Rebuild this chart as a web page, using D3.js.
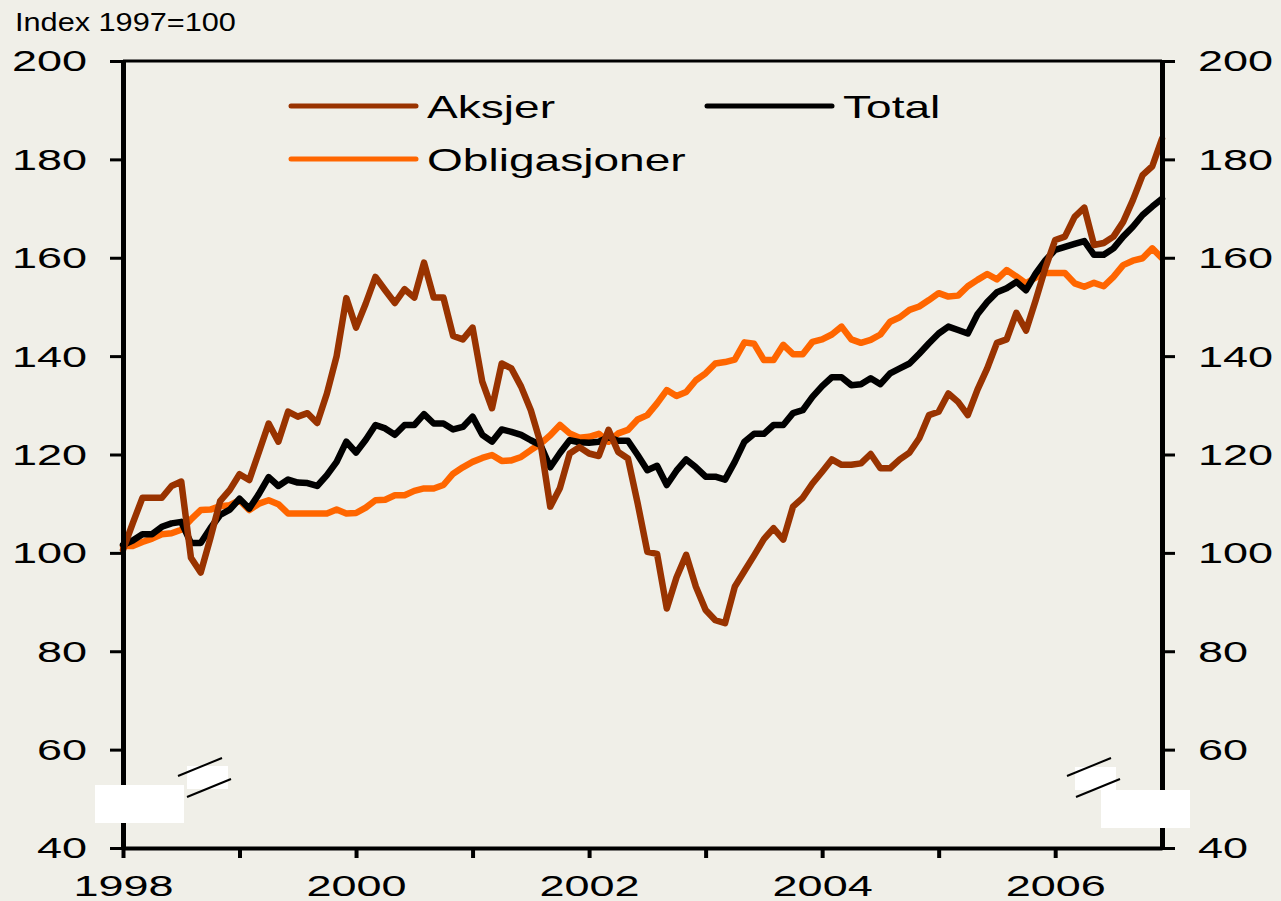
<!DOCTYPE html>
<html lang="no">
<head>
<meta charset="utf-8">
<title>Index 1997=100</title>
<script src="https://cdn.jsdelivr.net/npm/d3@7"></script>
<style>
  body { margin: 0; background: #f0efe8; }
  svg { display: block; }
  text { font-family: "Liberation Sans", Arial, sans-serif; fill: #000; }
  .line { fill: none; stroke-width: 6.5; stroke-linejoin: round; stroke-linecap: round; }
</style>
</head>
<body>
<script>
// monthly observations, Jan 1998 - Dec 2006
var startYear = 1998;
var yearLabels = ["1998", "2000", "2002", "2004", "2006"];
var yTicks = [40, 60, 80, 100, 120, 140, 160, 180, 200];

var aksjer = [
  100.6, 106, 111.2, 111.2, 111.2, 113.6, 114.5, 99, 96, 103, 110.5, 112.8,
  116, 114.8, 120.5, 126.3, 122.6, 128.7, 127.7, 128.4, 126.4, 132.4, 140, 151.8,
  145.8, 150.7, 156.1, 153.4, 150.8, 153.6, 151.9, 159, 151.9, 151.9, 144.1, 143.4,
  145.8, 134.8, 129.4, 138.5, 137.5, 133.8, 129, 122.3, 109.4, 113.2, 120.2, 121.5,
  120.2, 119.7, 125, 120.5, 119.2, 110.1, 100.2, 99.8, 88.7, 95, 99.6, 93.1,
  88.4, 86.3, 85.7, 93.1, 96.3, 99.5, 102.8, 105, 102.7, 109.4, 111.2, 114.1,
  116.5, 119, 117.9, 117.9, 118.2, 120.1, 117.2, 117.2, 119, 120.4, 123.3, 128,
  128.7, 132.4, 130.7, 128, 133.2, 137.5, 142.7, 143.4, 148.8, 145.2, 151.4, 158,
  163.6, 164.3, 168.3, 170.2, 162.6, 163, 164.3, 167.3, 171.7, 176.8, 178.6, 184.2
];

var total = [
  101.6, 102.5, 103.8, 103.8, 105.3, 106, 106.3, 102, 102, 105, 107.7, 108.8,
  111, 109, 112, 115.4, 113.6, 114.9, 114.3, 114.2, 113.6, 115.8, 118.5, 122.6,
  120.4, 123, 126, 125.3, 124, 126, 126, 128.2, 126.3, 126.3, 125.1, 125.6,
  127.7, 124, 122.6, 125.1, 124.6, 124, 122.9, 121.9, 117.4, 120.3, 122.9, 122.5,
  122.4, 122.6, 123.5, 122.8, 122.8, 119.9, 116.8, 117.7, 113.8, 116.7, 119, 117.4,
  115.5, 115.5, 114.9, 118.5, 122.6, 124.2, 124.2, 126, 126, 128.4, 129, 131.7,
  133.9, 135.7, 135.7, 134.1, 134.3, 135.5, 134.3, 136.5, 137.5, 138.5, 140.5, 142.6,
  144.6, 146, 145.3, 144.6, 148.5, 151, 153, 153.8, 155.1, 153.4, 156.8, 159.5,
  161.6, 162.2, 162.8, 163.4, 160.6, 160.6, 161.9, 164.3, 166.3, 168.7, 170.4, 172
];

var obligasjoner = [
  101.4, 101.4, 102.2, 102.9, 103.8, 104, 104.7, 106.8, 108.7, 108.8, 109.5, 109.7,
  110.7, 108.7, 110, 110.7, 109.9, 108, 108, 108, 108, 108, 108.8, 108,
  108.1, 109.2, 110.7, 110.8, 111.7, 111.7, 112.6, 113.1, 113.1, 113.8, 116.1, 117.4,
  118.5, 119.3, 119.9, 118.7, 118.8, 119.5, 120.9, 122.2, 123.9, 126, 124.3, 123.4,
  123.6, 124.2, 122.6, 124.3, 125, 127.1, 128, 130.4, 133.1, 131.9, 132.7, 135.1,
  136.5, 138.5, 138.8, 139.3, 142.8, 142.5, 139.2, 139.2, 142.3, 140.4, 140.4, 142.9,
  143.4, 144.4, 146, 143.4, 142.7, 143.3, 144.4, 147, 147.9, 149.4, 150.1, 151.4,
  152.8, 152.1, 152.3, 154.2, 155.5, 156.7, 155.6, 157.5, 156.2, 154.8, 156, 156.9,
  156.9, 156.9, 154.8, 154.1, 154.9, 154.2, 156.1, 158.5, 159.4, 159.9, 161.9, 159.9
];

var series = [
  { name: "Obligasjoner", values: obligasjoner, color: "#ff6600" },
  { name: "Total", values: total, color: "#000000" },
  { name: "Aksjer", values: aksjer, color: "#993300" }
];

var w = 1281, h = 901;
var plotLeft = 123, plotRight = 1162, plotTop = 61, plotBottom = 848;
var sx = 1.5; // the original text is stretched sideways

var xScale = d3.scaleLinear().domain([0, aksjer.length - 1]).range([plotLeft, plotRight]);
var yScale = d3.scaleLinear().domain([40, 200]).range([plotBottom, plotTop]);

var svg = d3.select("body").append("svg")
  .attr("width", w)
  .attr("height", h);

svg.append("rect").attr("width", w).attr("height", h).attr("fill", "#f0efe8");

// top border
svg.append("line")
  .attr("x1", plotLeft).attr("x2", plotRight)
  .attr("y1", plotTop).attr("y2", plotTop)
  .attr("stroke", "#000").attr("stroke-width", 3);

// lines
var line = d3.line()
  .x(function(d, i) { return xScale(i); })
  .y(function(d) { return yScale(d); });

series.forEach(function(s) {
  svg.append("path")
    .datum(s.values)
    .attr("class", "line")
    .attr("stroke", s.color)
    .attr("d", line);
});

// y axes
function styleY(g, side) {
  g.select(".domain").attr("stroke-width", 5);
  g.selectAll(".tick line").attr("stroke-width", 3);
  g.selectAll(".tick text")
    .attr("font-size", 30)
    .attr("x", side * 36 / sx)
    .attr("dy", "0.33em")
    .attr("transform", "scale(" + sx + ",1)");
}

svg.append("g")
  .attr("transform", "translate(" + plotLeft + ",0)")
  .call(d3.axisLeft(yScale).tickValues(yTicks).tickSize(13).tickSizeOuter(0))
  .call(styleY, -1);

svg.append("g")
  .attr("transform", "translate(" + plotRight + ",0)")
  .call(d3.axisRight(yScale).tickValues(yTicks).tickSize(13).tickSizeOuter(0))
  .call(styleY, 1);

// x axis: a tick each January, a label every second year
var yearTicks = d3.range(0, aksjer.length, 12);
var xAxis = d3.axisBottom(xScale)
  .tickValues(yearTicks)
  .tickSize(10)
  .tickSizeOuter(0)
  .tickFormat(function(d) {
    var y = String(startYear + d / 12);
    return yearLabels.indexOf(y) >= 0 ? y : "";
  });

var gx = svg.append("g")
  .attr("transform", "translate(0," + plotBottom + ")")
  .call(xAxis);
gx.select(".domain").attr("stroke-width", 4);
gx.selectAll(".tick line").attr("stroke-width", 4);
gx.selectAll(".tick text")
  .attr("font-size", 30)
  .attr("y", 48).attr("dy", 0)
  .attr("transform", "scale(" + sx + ",1)");
svg.selectAll(".domain, .tick line").attr("stroke", "#000");

// axis break marks
function brk(x0, y0, bigX, bigY, smallX, smallY) {
  svg.append("rect").attr("x", bigX).attr("y", bigY).attr("width", 89).attr("height", 38).attr("fill", "#fff");
  svg.append("rect").attr("x", smallX).attr("y", smallY).attr("width", 41).attr("height", 23).attr("fill", "#fff");
  [[0, 0], [9, 21]].forEach(function(o) {
    svg.append("line")
      .attr("x1", x0 + o[0]).attr("y1", y0 + o[1])
      .attr("x2", x0 + o[0] + 44).attr("y2", y0 + o[1] - 18)
      .attr("stroke", "#000").attr("stroke-width", 2);
  });
}
brk(178, 776, 95, 785, 187, 766);
brk(1067, 776, 1101, 790, 1075, 767);

// title
svg.append("text")
  .attr("transform", "translate(15,31) scale(1.18,1)")
  .attr("font-size", 26)
  .text("Index 1997=100");

// legend
var legend = [
  { name: "Aksjer", color: "#993300", x: 291, y: 106 },
  { name: "Total", color: "#000000", x: 707, y: 106 },
  { name: "Obligasjoner", color: "#ff6600", x: 291, y: 159 }
];
var lg = svg.selectAll(".leg").data(legend).enter().append("g")
  .attr("class", "leg")
  .attr("transform", function(d) { return "translate(" + d.x + "," + d.y + ")"; });
lg.append("line")
  .attr("x1", 0).attr("x2", 125)
  .attr("stroke", function(d) { return d.color; })
  .attr("stroke-width", 5)
  .attr("stroke-linecap", "round");
lg.append("text")
  .attr("transform", "translate(136,12) scale(1.44,1)")
  .attr("font-size", 32)
  .text(function(d) { return d.name; });
</script>
</body>
</html>
